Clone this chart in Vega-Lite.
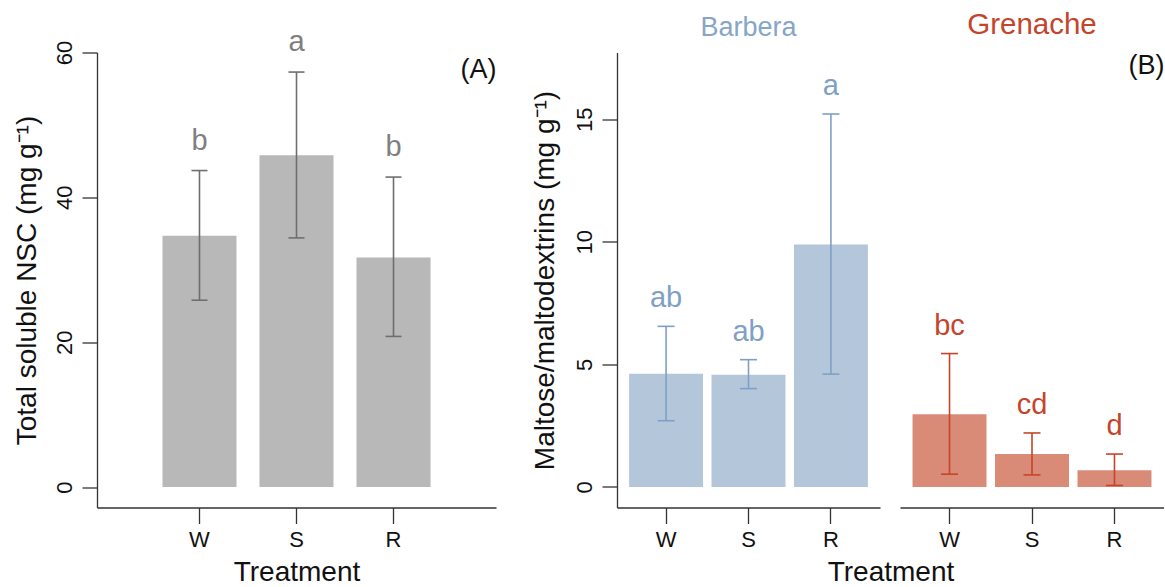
{
  "$schema": "https://vega.github.io/schema/vega-lite/v6.json",
  "background": "white",
  "padding": {"left": 13, "top": 9.5, "right": 0, "bottom": 0},
  "config": {
    "font": "Liberation Sans",
    "view": {"stroke": null},
    "axis": {
      "grid": false,
      "domainColor": "#333333",
      "tickColor": "#333333",
      "domainWidth": 1.3,
      "tickWidth": 1.3,
      "labelColor": "#111111",
      "titleColor": "#111111",
      "labelFont": "Liberation Sans",
      "titleFont": "Liberation Sans",
      "labelFontSize": 22,
      "titleFontSize": 28,
      "titleFontWeight": "normal"
    },
    "title": {"font": "Liberation Sans", "fontWeight": "normal"}
  },
  "datasets": {
    "nsc": [
      {"treatment": "W", "mean": 34.7, "lo": 25.8, "hi": 43.7, "letter": "b"},
      {"treatment": "S", "mean": 45.8, "lo": 34.4, "hi": 57.3, "letter": "a"},
      {"treatment": "R", "mean": 31.7, "lo": 20.8, "hi": 42.8, "letter": "b"}
    ],
    "malt": [
      {"cultivar": "Barbera", "treatment": "W", "mean": 4.62, "lo": 2.70, "hi": 6.55, "letter": "ab"},
      {"cultivar": "Barbera", "treatment": "S", "mean": 4.58, "lo": 4.01, "hi": 5.19, "letter": "ab"},
      {"cultivar": "Barbera", "treatment": "R", "mean": 9.89, "lo": 4.60, "hi": 15.21, "letter": "a"},
      {"cultivar": "Grenache", "treatment": "W", "mean": 2.96, "lo": 0.52, "hi": 5.44, "letter": "bc"},
      {"cultivar": "Grenache", "treatment": "S", "mean": 1.34, "lo": 0.49, "hi": 2.20, "letter": "cd"},
      {"cultivar": "Grenache", "treatment": "R", "mean": 0.68, "lo": 0.06, "hi": 1.34, "letter": "d"}
    ]
  },
  "bounds": "flush",
  "spacing": 121,
  "hconcat": [
    {
      "width": 399,
      "height": 455,
      "data": {"name": "nsc"},
      "layer": [
        {
          "layer": [
            {
              "mark": {"type": "bar", "color": "#b8b8b8"},
              "encoding": {
                "x": {"field": "treatment", "type": "nominal", "sort": ["W", "S", "R"], "scale": {"paddingInner": 0.237, "paddingOuter": 0.675},
                  "axis": {"orient": "bottom", "title": "Treatment", "labelAngle": 0, "tickSize": 16, "labelPadding": 6, "titlePadding": 8}},
                "y": {"field": "mean", "type": "quantitative", "scale": {"domain": [-2.82, 60], "nice": false, "zero": false},
                  "axis": {"orient": "left", "values": [0, 20, 40, 60], "title": "Total soluble NSC (mg g⁻¹)", "labelAngle": 270, "labelAlign": "center", "labelBaseline": "bottom", "tickSize": 15, "labelPadding": 6, "titlePadding": 12}},
                "y2": {"datum": 0}
              }
            },
            {
              "mark": {"type": "rule", "color": "#6e6e6e", "strokeWidth": 1.6},
              "encoding": {
                "x": {"field": "treatment", "type": "nominal", "sort": ["W", "S", "R"]},
                "y": {"field": "lo", "type": "quantitative", "scale": {"domain": [-2.82, 60], "nice": false, "zero": false}},
                "y2": {"field": "hi"}
              }
            },
            {
              "mark": {"type": "tick", "color": "#6e6e6e", "size": 16, "thickness": 1.6, "opacity": 1},
              "encoding": {
                "x": {"field": "treatment", "type": "nominal", "sort": ["W", "S", "R"]},
                "y": {"field": "lo", "type": "quantitative", "scale": {"domain": [-2.82, 60], "nice": false, "zero": false}}
              }
            },
            {
              "mark": {"type": "tick", "color": "#6e6e6e", "size": 16, "thickness": 1.6, "opacity": 1},
              "encoding": {
                "x": {"field": "treatment", "type": "nominal", "sort": ["W", "S", "R"]},
                "y": {"field": "hi", "type": "quantitative", "scale": {"domain": [-2.82, 60], "nice": false, "zero": false}}
              }
            }
          ]
        },
        {
          "mark": {"type": "text", "fontSize": 29, "color": "#7f7f7f", "dy": -30, "baseline": "middle", "font": "Liberation Sans"},
          "encoding": {
            "x": {"field": "treatment", "type": "nominal", "sort": ["W", "S", "R"],
              "axis": {"orient": "top", "title": "(A)", "titleAnchor": "end", "titleAlign": "right", "titleY": 17, "titleBaseline": "middle", "titleFontSize": 27, "labels": false, "ticks": false, "domain": false}},
            "y": {"field": "hi", "type": "quantitative", "scale": {"domain": [-2.82, 60], "nice": false, "zero": false}},
            "text": {"field": "letter"}
          }
        }
      ]
    },
    {
      "bounds": "flush",
      "spacing": 20,
      "hconcat": [
        {
          "width": 263,
          "height": 455,
          "title": {"text": "Barbera", "color": "#86a6c8", "fontSize": 27, "offset": 11, "anchor": "middle", "frame": "group"},
          "data": {"name": "malt"},
          "transform": [{"filter": "datum.cultivar === 'Barbera'"}],
          "layer": [
            {
              "mark": {"type": "bar", "color": "#b3c6da"},
              "encoding": {
                "x": {"field": "treatment", "type": "nominal", "sort": ["W", "S", "R"], "scale": {"paddingInner": 0.103, "paddingOuter": 0.147},
                  "axis": {"orient": "bottom", "title": "Treatment", "titleX": 273.5, "titleAlign": "center", "labelAngle": 0, "tickSize": 16, "labelPadding": 6, "titlePadding": 8}},
                "y": {"field": "mean", "type": "quantitative", "scale": {"domain": [-0.84, 17.72], "nice": false, "zero": false},
                  "axis": {"orient": "left", "values": [0, 5, 10, 15], "title": "Maltose/maltodextrins (mg g⁻¹)", "labelAngle": 270, "labelAlign": "center", "labelBaseline": "bottom", "tickSize": 15, "labelPadding": 6, "titlePadding": 14}},
                "y2": {"datum": 0}
              }
            },
            {
              "mark": {"type": "rule", "color": "#7fa0c6", "strokeWidth": 1.6},
              "encoding": {
                "x": {"field": "treatment", "type": "nominal", "sort": ["W", "S", "R"]},
                "y": {"field": "lo", "type": "quantitative", "scale": {"domain": [-0.84, 17.72], "nice": false, "zero": false}},
                "y2": {"field": "hi"}
              }
            },
            {
              "mark": {"type": "tick", "color": "#7fa0c6", "size": 17, "thickness": 1.6, "opacity": 1},
              "encoding": {
                "x": {"field": "treatment", "type": "nominal", "sort": ["W", "S", "R"]},
                "y": {"field": "lo", "type": "quantitative", "scale": {"domain": [-0.84, 17.72], "nice": false, "zero": false}}
              }
            },
            {
              "mark": {"type": "tick", "color": "#7fa0c6", "size": 17, "thickness": 1.6, "opacity": 1},
              "encoding": {
                "x": {"field": "treatment", "type": "nominal", "sort": ["W", "S", "R"]},
                "y": {"field": "hi", "type": "quantitative", "scale": {"domain": [-0.84, 17.72], "nice": false, "zero": false}}
              }
            },
            {
              "mark": {"type": "text", "fontSize": 29, "color": "#7fa0c6", "dy": -28, "baseline": "middle", "font": "Liberation Sans"},
              "encoding": {
                "x": {"field": "treatment", "type": "nominal", "sort": ["W", "S", "R"]},
                "y": {"field": "hi", "type": "quantitative", "scale": {"domain": [-0.84, 17.72], "nice": false, "zero": false}},
                "text": {"field": "letter"}
              }
            }
          ]
        },
        {
          "width": 264,
          "height": 455,
          "title": {"text": "Grenache", "color": "#c4452b", "fontSize": 29.5, "offset": 11, "anchor": "middle", "frame": "group"},
          "data": {"name": "malt"},
          "transform": [{"filter": "datum.cultivar === 'Grenache'"}],
          "layer": [
            {
              "layer": [
                {
                  "mark": {"type": "bar", "color": "#d98b77"},
                  "encoding": {
                    "x": {"field": "treatment", "type": "nominal", "sort": ["W", "S", "R"], "scale": {"paddingInner": 0.103, "paddingOuter": 0.152},
                      "axis": {"orient": "bottom", "title": null, "labelAngle": 0, "tickSize": 16, "labelPadding": 6}},
                    "y": {"field": "mean", "type": "quantitative", "scale": {"domain": [-0.84, 17.72], "nice": false, "zero": false}, "axis": null},
                    "y2": {"datum": 0}
                  }
                },
                {
                  "mark": {"type": "rule", "color": "#c4452b", "strokeWidth": 1.6},
                  "encoding": {
                    "x": {"field": "treatment", "type": "nominal", "sort": ["W", "S", "R"]},
                    "y": {"field": "lo", "type": "quantitative", "scale": {"domain": [-0.84, 17.72], "nice": false, "zero": false}, "axis": null},
                    "y2": {"field": "hi"}
                  }
                },
                {
                  "mark": {"type": "tick", "color": "#c4452b", "size": 17, "thickness": 1.6, "opacity": 1},
                  "encoding": {
                    "x": {"field": "treatment", "type": "nominal", "sort": ["W", "S", "R"]},
                    "y": {"field": "lo", "type": "quantitative", "scale": {"domain": [-0.84, 17.72], "nice": false, "zero": false}, "axis": null}
                  }
                },
                {
                  "mark": {"type": "tick", "color": "#c4452b", "size": 17, "thickness": 1.6, "opacity": 1},
                  "encoding": {
                    "x": {"field": "treatment", "type": "nominal", "sort": ["W", "S", "R"]},
                    "y": {"field": "hi", "type": "quantitative", "scale": {"domain": [-0.84, 17.72], "nice": false, "zero": false}, "axis": null}
                  }
                }
              ]
            },
            {
              "mark": {"type": "text", "fontSize": 29, "color": "#c4452b", "dy": -28, "baseline": "middle", "font": "Liberation Sans"},
              "encoding": {
                "x": {"field": "treatment", "type": "nominal", "sort": ["W", "S", "R"],
                  "axis": {"orient": "top", "title": "(B)", "titleAnchor": "end", "titleAlign": "right", "titleY": 13, "titleBaseline": "middle", "titleFontSize": 27, "titleColor": "#111111", "labels": false, "ticks": false, "domain": false}},
                "y": {"field": "hi", "type": "quantitative", "scale": {"domain": [-0.84, 17.72], "nice": false, "zero": false}, "axis": null},
                "text": {"field": "letter"}
              }
            }
          ]
        }
      ]
    }
  ]
}
